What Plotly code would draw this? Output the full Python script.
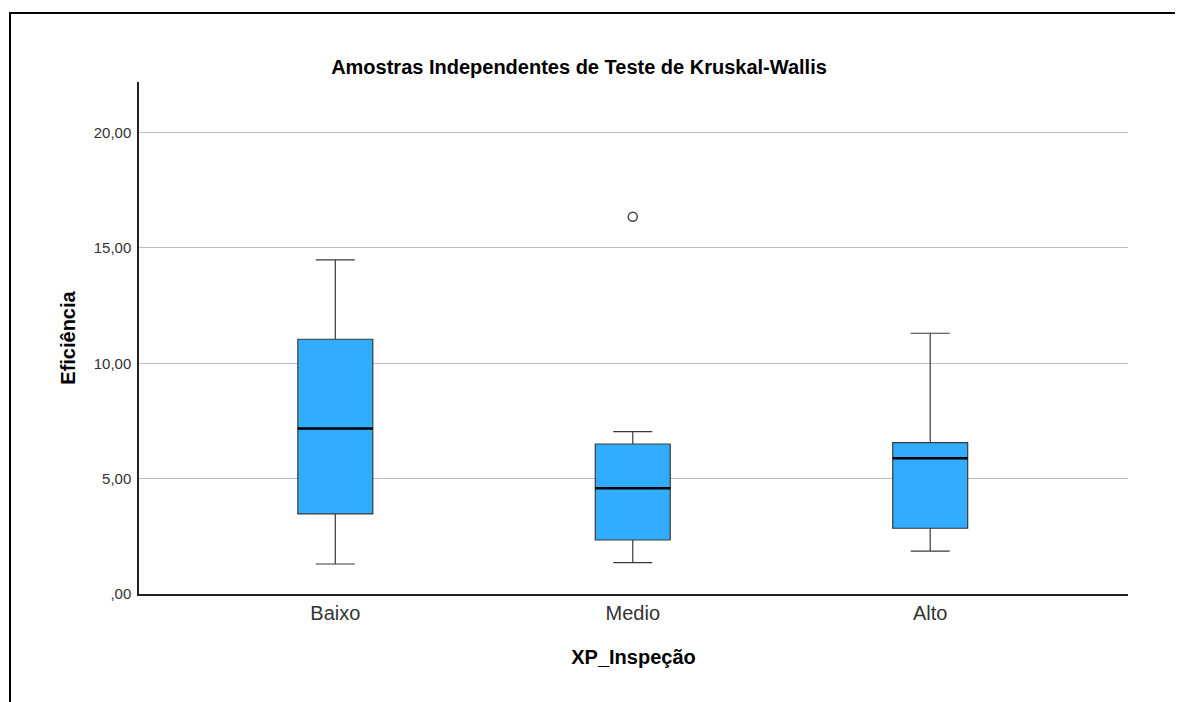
import plotly.graph_objects as go

categories = ["Baixo", "Medio", "Alto"]
lower_whisker = [1.30, 1.36, 1.86]
q1 = [3.47, 2.34, 2.85]
median = [7.17, 4.58, 5.88]
q3 = [11.04, 6.50, 6.56]
upper_whisker = [14.48, 7.04, 11.30]
outlier_cat = ["Medio"]
outlier_val = [16.35]
tick_vals = [0, 5, 10, 15, 20]
tick_text = [",00", "5,00", "10,00", "15,00", "20,00"]

BOX_W = 0.252
FONT = "Liberation Sans, Arial, sans-serif"

# page is offset by the browser's 8px body margin; compensate
W, H = 1177, 694
ML, MR, MT, MB = 131, 57, 74, 108
PW, PH = W - ML - MR, H - MT - MB

fig = go.Figure()
fig.add_trace(go.Box(
    x=categories, q1=q1, median=median, q3=q3,
    lowerfence=lower_whisker, upperfence=upper_whisker,
    width=BOX_W, whiskerwidth=0.52,
    fillcolor="#31ACFF",
    line=dict(color="#3a3a3a", width=1.2),
    boxpoints=False, showlegend=False, hoverinfo="skip",
))
fig.add_trace(go.Scatter(
    x=outlier_cat, y=outlier_val, mode="markers",
    marker=dict(symbol="circle-open", size=9, color="#444444", line=dict(width=1.5)),
    showlegend=False,
))

shapes = []
for i, m in enumerate(median):
    shapes.append(dict(type="line", xref="x", yref="y",
                       x0=i - BOX_W / 2, x1=i + BOX_W / 2, y0=m, y1=m,
                       line=dict(color="black", width=2.5)))
# outer frame (left and top edges), in screen px -> paper
fx = lambda px: (px - 8 - ML) / PW
fy = lambda py: (H - MB - (py - 8)) / PH
shapes.append(dict(type="line", xref="paper", yref="paper",
                   x0=fx(10), x1=fx(10), y0=fy(12), y1=fy(720),
                   line=dict(color="black", width=2)))
shapes.append(dict(type="line", xref="paper", yref="paper",
                   x0=fx(9), x1=fx(1175), y0=fy(13), y1=fy(13),
                   line=dict(color="black", width=2)))

fig.update_layout(
    width=W, height=H,
    margin=dict(l=ML, r=MR, t=MT, b=MB),
    paper_bgcolor="white", plot_bgcolor="white",
    font=dict(family=FONT, color="black"),
    title=dict(text="<b>Amostras Independentes de Teste de Kruskal-Wallis</b>",
               x=(579 - 8) / W, xref="container", xanchor="center",
               y=1 - (67 - 8) / H, yref="container", yanchor="middle",
               font=dict(size=20, color="black")),
    shapes=shapes,
)

fig.update_xaxes(
    type="category", categoryorder="array", categoryarray=categories,
    range=[-0.66, 2.665],
    showline=True, linecolor="#222222", linewidth=1.5,
    showgrid=False, ticks="", zeroline=False,
    tickfont=dict(size=20, color="#333333", family=FONT),
    title=dict(text="<b>XP_Inspeção</b>", font=dict(size=20, color="black"), standoff=27),
)
fig.update_yaxes(
    range=[0, 22.19],
    tickvals=tick_vals, ticktext=tick_text,
    showline=True, linecolor="#222222", linewidth=1.5,
    showgrid=True, gridcolor="#BDBDBD", gridwidth=1.2,
    zeroline=False, ticks="", ticklabelstandoff=3,
    tickfont=dict(size=15, color="#333333", family=FONT),
    title=dict(text="<b>Eficiência</b>", font=dict(size=20, color="black"), standoff=13),
)

fig.write_html("out.html")
